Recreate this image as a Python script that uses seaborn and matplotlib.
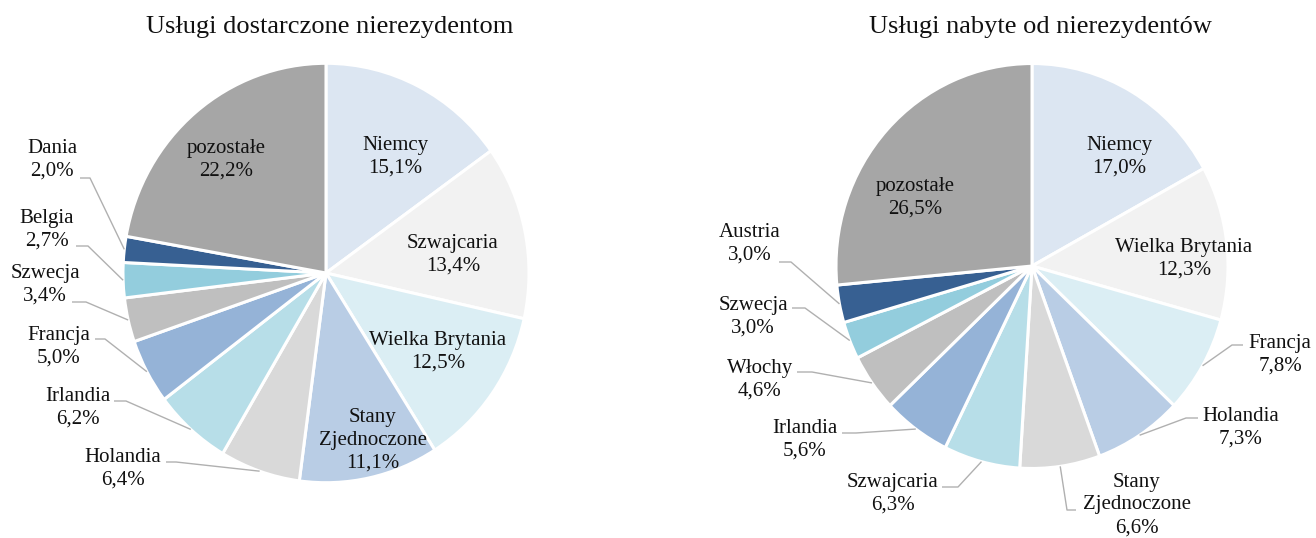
import numpy as np
import matplotlib
matplotlib.use("Agg")
import matplotlib.pyplot as plt
import seaborn as sns

# data: left pie (services supplied to non-residents)
left_names = ["Niemcy", "Szwajcaria", "Wielka Brytania", "Stany\nZjednoczone", "Holandia",
              "Irlandia", "Francja", "Szwecja", "Belgia", "Dania", "pozostałe"]
left_vals = [15.1, 13.4, 12.5, 11.1, 6.4, 6.2, 5.0, 3.4, 2.7, 2.0, 22.2]

# data: right pie (services purchased from non-residents)
right_names = ["Niemcy", "Wielka Brytania", "Francja", "Holandia", "Stany\nZjednoczone",
               "Szwajcaria", "Irlandia", "Włochy", "Szwecja", "Austria", "pozostałe"]
right_vals = [17.0, 12.3, 7.8, 7.3, 6.6, 6.3, 5.6, 4.6, 3.0, 3.0, 26.5]

titles = ["Usługi dostarczone nierezydentom", "Usługi nabyte od nierezydentów"]

slice_colors = ["#DCE6F2", "#F2F2F2", "#DBEEF4", "#B9CDE5", "#D9D9D9", "#B7DEE8",
                "#95B3D7", "#BFBFBF", "#93CDDD", "#376092", "#A6A6A6"]

# layout (image pixel coordinates, y down)
W, H = 1316, 538
S = 1.033  # slight vertical stretch of the original picture
left_geom = dict(cx=326, cy=273, r=203, title_x=330)
right_geom = dict(cx=1032, cy=266, r=196, title_x=1040)

# label placement: text centre, and for outside labels the leader start + elbow x
left_lab = [
    dict(t=(395, 157)), dict(t=(453, 255)), dict(t=(438, 352)), dict(t=(373, 440)),
    dict(t=(123, 469), s=(166, 462), e=176),
    dict(t=(78, 408), s=(114, 401), e=126),
    dict(t=(59, 347), s=(95, 339), e=105),
    dict(t=(45, 285), s=(72, 302), e=86),
    dict(t=(47, 230), s=(76, 246), e=88),
    dict(t=(52, 160), s=(80, 178), e=90),
    dict(t=(226, 160)),
]
right_lab = [
    dict(t=(1119, 157)), dict(t=(1184, 259)),
    dict(t=(1280, 355), s=(1243, 345), e=1232),
    dict(t=(1241, 428), s=(1198, 418), e=1186),
    dict(t=(1137, 505), s=(1076, 510), e=1067),
    dict(t=(893, 494), s=(942, 487), e=958),
    dict(t=(805, 440), s=(842, 433), e=856),
    dict(t=(760, 380), s=(797, 372), e=812),
    dict(t=(753, 317), s=(792, 308), e=805),
    dict(t=(750, 244), s=(779, 262), e=791),
    dict(t=(915, 198)),
]

sns.set_theme(style="white")
plt.rcParams["font.family"] = ["Liberation Serif", "DejaVu Serif"]


def pt(x, y):
    return x, (H - y) / S


fig = plt.figure(figsize=(W / 100, H / 100), dpi=100)
ax = fig.add_axes([0, 0, 1, 1])


def draw_pie(names, vals, geom, labs, title):
    c = pt(geom["cx"], geom["cy"])
    r = geom["r"]
    ax.pie(vals, colors=slice_colors, startangle=90, counterclock=False,
           center=c, radius=r,
           wedgeprops=dict(edgecolor="white", linewidth=2.2))
    cum = np.cumsum(vals)
    mids = np.deg2rad(360 * (cum - np.array(vals) / 2) / 100)
    for name, v, m, lab in zip(names, vals, mids, labs):
        txt = f"{name}\n{v:.1f}%".replace(".", ",")
        ax.text(*pt(*lab["t"]), txt, ha="center", va="center", fontsize=15,
                linespacing=1.27, color="#111111")
        if "s" in lab:
            ex = c[0] + r * np.sin(m)
            ey = c[1] + r * np.cos(m)
            sx, sy = pt(*lab["s"])
            ax.plot([sx, lab["e"], ex], [sy, sy, ey], color="#B0B0B0", lw=1.0,
                    solid_capstyle="butt")
    ax.text(*pt(geom["title_x"], 33), title, ha="center", va="baseline",
            fontsize=19, color="#111111")


draw_pie(left_names, left_vals, left_geom, left_lab, titles[0])
draw_pie(right_names, right_vals, right_geom, right_lab, titles[1])

ax.set_aspect("auto")
ax.set_xlim(0, W)
ax.set_ylim(0, H / S)
ax.axis("off")

fig.savefig("out.png", dpi=100, facecolor="white")
